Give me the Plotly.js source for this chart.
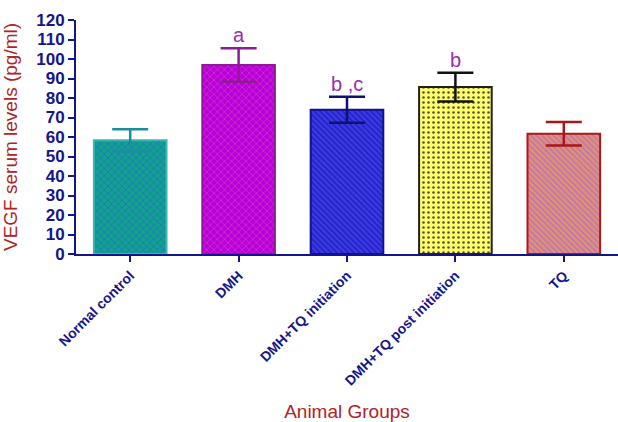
<!DOCTYPE html>
<html>
<head>
<meta charset="utf-8">
<script src="https://cdn.plot.ly/plotly-3.0.1.min.js"></script>
<style>html,body{margin:0;padding:0;background:#fff;}#chart{width:618px;height:422px;}</style>
</head>
<body>
<div id="chart"></div>
<script>
var categories = ["Normal control", "DMH", "DMH+TQ initiation", "DMH+TQ post initiation", "TQ"];
var means = [58.3, 96.9, 74.0, 85.6, 61.7];
var errors = [5.7, 8.6, 6.7, 7.4, 6.0];
var letters = ["", "a", "b ,c", "b", ""];

var fillColors = ["#12A090", "#B800D8", "#3A3AEA", "#FFFF6E", "#F0905E"];
var patternFg = ["#1C78B0", "#D838D0", "#1E1EB0", "#505030", "#A878D0"];
var patternShapes = ["x", "x", "\\", ".", "\\"];
var patternSolidity = [0.3, 0.25, 0.35, 0.2, 0.4];
var patternSizes = [5, 5, 4, 5, 4];
var edgeColors = ["#3CB4B4", "#8E1A96", "#101090", "#202020", "#B01818"];
var errColors = ["#1C8CA0", "#8E1A96", "#101070", "#111111", "#A81818"];

var traces = categories.map(function (c, i) {
  return {
    type: "bar",
    x: [i],
    y: [means[i]],
    width: 0.67,
    marker: {
      color: fillColors[i],
      line: {color: edgeColors[i], width: 2},
      pattern: {shape: patternShapes[i], fgcolor: patternFg[i], bgcolor: fillColors[i], size: patternSizes[i], solidity: patternSolidity[i], fillmode: "replace"}
    },
    error_y: {type: "data", array: [errors[i]], visible: true, color: errColors[i], thickness: 2.5, width: 18},
    showlegend: false,
    hoverinfo: "none"
  };
});

var annotations = [];
letters.forEach(function (t, i) {
  if (t) {
    annotations.push({
      x: i, y: means[i] + errors[i], xref: "x", yref: "y",
      text: t, showarrow: false, yanchor: "bottom", yshift: 0,
      font: {family: "Liberation Sans, Arial, sans-serif", size: 20, color: "#9A2CB0"}
    });
  }
});

var layout = {
  width: 618, height: 422,
  margin: {l: 76, r: 0, t: 20, b: 168},
  paper_bgcolor: "#fff", plot_bgcolor: "#fff",
  xaxis: {
    range: [-0.5, 4.5],
    tickmode: "array", tickvals: [0, 1, 2, 3, 4], ticktext: categories,
    tickangle: -45,
    ticks: "outside", ticklen: 6, tickwidth: 2, tickcolor: "#14148C",
    showline: true, linecolor: "#14148C", linewidth: 2,
    showgrid: false, zeroline: false,
    tickfont: {family: "Liberation Sans, Arial, sans-serif", size: 14, color: "#14148C", weight: "bold"},
    title: {text: "Animal Groups", font: {family: "Liberation Sans, Arial, sans-serif", size: 19, color: "#B22222"}, standoff: 20}
  },
  yaxis: {
    range: [0, 120], dtick: 10,
    ticks: "outside", ticklen: 6, tickwidth: 2, tickcolor: "#14148C",
    showline: true, linecolor: "#14148C", linewidth: 2,
    showgrid: false, zeroline: false,
    tickfont: {family: "Liberation Sans, Arial, sans-serif", size: 17, color: "#14148C", weight: "bold"},
    title: {text: "VEGF serum levels (pg/ml)", font: {family: "Liberation Sans, Arial, sans-serif", size: 19, color: "#B22222"}, standoff: 14}
  },
  annotations: annotations
};

Plotly.newPlot("chart", traces, layout, {displayModeBar: false, staticPlot: true});
</script>
</body>
</html>
